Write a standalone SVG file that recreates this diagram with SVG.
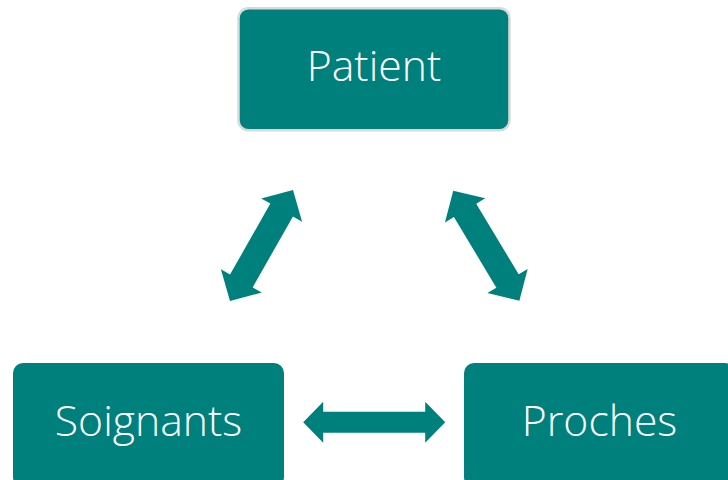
<svg xmlns="http://www.w3.org/2000/svg" width="728" height="480" viewBox="0 0 728 480">
  <style>
    .box { fill: #00807d; }
    .lbl { fill: #ffffff; font-family: "Open Sans", "Noto Sans", "Liberation Sans", sans-serif; font-weight: 300; font-size: 42.7px; text-anchor: middle; }
    .arrow { fill: #00807d; }
  </style>
  <rect width="728" height="480" fill="#ffffff"/>
  <g id="connectors">
    <polygon class="arrow" transform="translate(261.5 245.5) rotate(-60.4)" points="-63.8,0 -40.8,-23.5 -40.8,-13 40.8,-13 40.8,-23.5 63.8,0 40.8,23.5 40.8,13 -40.8,13 -40.8,23.5"/>
    <polygon class="arrow" transform="translate(486.3 245.7) rotate(59)" points="-64.2,0 -41.2,-23.5 -41.2,-13 41.2,-13 41.2,-23.5 64.2,0 41.2,23.5 41.2,13 -41.2,13 -41.2,23.5"/>
    <polygon class="arrow" transform="translate(374.2 422.3)" points="-71,0 -51,-20.5 -51,-10.5 51,-10.5 51,-20.5 71,0 51,20.5 51,10.5 -51,10.5 -51,20.5"/>
  </g>
  <g id="patient">
    <rect class="box" x="238.5" y="8.2" width="271" height="122" rx="10" stroke="#d9d9d9" stroke-width="2.5"/>
    <text class="lbl" x="374" y="81">Patient</text>
  </g>
  <g id="soignants">
    <rect class="box" x="13" y="363" width="271" height="124" rx="10"/>
    <text class="lbl" x="148.5" y="436">Soignants</text>
  </g>
  <g id="proches">
    <rect class="box" x="464" y="363" width="271" height="124" rx="10"/>
    <text class="lbl" x="599.5" y="436">Proches</text>
  </g>
</svg>
